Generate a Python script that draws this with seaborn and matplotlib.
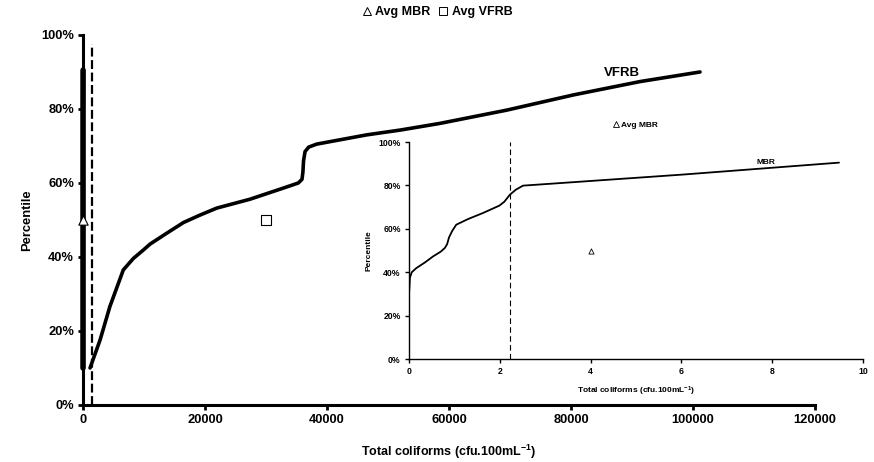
import matplotlib
matplotlib.use('Agg')
import matplotlib.pyplot as plt
import seaborn as sns
import pandas as pd
from matplotlib.ticker import PercentFormatter
from matplotlib.lines import Line2D

# cumulative percentile curves
vfrb_x = [1150, 2800, 4400, 6600, 8250, 9900, 11000, 13700, 16450, 19000, 21900, 27350, 32800,
          35300, 35900, 36050, 36150, 36400, 37000, 38300, 46500, 52000, 58500,
          69500, 80400, 91300, 101150]
vfrb_p = [0.10, 0.176, 0.266, 0.365, 0.396, 0.419, 0.435, 0.464, 0.493, 0.512, 0.532, 0.556, 0.586,
          0.600, 0.610, 0.630, 0.660, 0.685, 0.697, 0.705, 0.730, 0.743, 0.761,
          0.797, 0.838, 0.874, 0.90]

mbr_x = [0.0, 0.0, 0.02, 0.06, 0.16, 0.35, 0.53, 0.70, 0.79, 0.84, 0.88, 0.95,
         1.04, 1.30, 1.63, 1.99, 2.10, 2.22, 2.35, 2.51, 3.0, 6.03, 9.47]
mbr_p = [0.10, 0.30, 0.375, 0.40, 0.419, 0.445, 0.473, 0.495, 0.512, 0.53, 0.56, 0.59,
         0.619, 0.645, 0.673, 0.707, 0.725, 0.757, 0.78, 0.799, 0.806, 0.85, 0.905]

# averages
avg_mbr = (4.0, 0.50)
avg_vfrb = (30000, 0.50)

# guide lines (limits)
main_guide_x = 1500
main_guide_top = 0.976
inset_guide_x = 2.22

vfrb = pd.DataFrame({'x': vfrb_x, 'p': vfrb_p})
mbr = pd.DataFrame({'x': mbr_x, 'p': mbr_p})

sns.set_style('ticks')
plt.rcParams['font.family'] = ['Liberation Sans', 'DejaVu Sans']
plt.rcParams['font.weight'] = 'bold'
plt.rcParams['text.color'] = 'black'
plt.rcParams['axes.labelcolor'] = 'black'
plt.rcParams['xtick.color'] = 'black'
plt.rcParams['ytick.color'] = 'black'
plt.rcParams['axes.edgecolor'] = 'black'
plt.rcParams['mathtext.fontset'] = 'custom'
plt.rcParams['mathtext.bf'] = 'Liberation Sans:bold'
plt.rcParams['mathtext.rm'] = 'Liberation Sans:bold'
plt.rcParams['mathtext.default'] = 'bf'

fig = plt.figure(figsize=(8.74, 4.62), dpi=100)

# main axes
ax = fig.add_axes([0.095, 0.1234, 0.8375, 0.8009])
sns.lineplot(data=vfrb, x='x', y='p', sort=False, estimator=None, color='black', lw=2.6, ax=ax)
sns.lineplot(data=mbr, x='x', y='p', sort=False, estimator=None, color='black', lw=4.0, ax=ax,
             clip_on=False, zorder=4)
ax.vlines(main_guide_x, 0, main_guide_top, colors='black', lw=1.6, linestyles=(0, (4, 1.6)))
ax.scatter([avg_mbr[0]], [avg_mbr[1]], marker='^', s=45, facecolors='white', edgecolors='black',
           lw=0.8, zorder=5, clip_on=False)
ax.scatter([avg_vfrb[0]], [avg_vfrb[1]], marker='s', s=60, facecolors='white', edgecolors='black',
           lw=0.8, zorder=5)
ax.text(88400, 0.897, 'VFRB', fontsize=9.5, fontweight='bold', ha='center', va='center')
ax.set_xlim(0, 120000)
ax.set_ylim(0, 1)
ax.set_xticks(range(0, 120001, 20000))
ax.set_yticks([0, 0.2, 0.4, 0.6, 0.8, 1.0])
ax.yaxis.set_major_formatter(PercentFormatter(1.0, decimals=0))
ax.set_xlabel('Total coliforms (cfu.100mL$^{-1}$)', fontsize=9, fontweight='bold', labelpad=12)
ax.set_ylabel('Percentile', fontsize=9.3, fontweight='bold', labelpad=6)
ax.tick_params(labelsize=9.3, width=2, length=3.5, pad=3)
for s in ['left', 'bottom']:
    ax.spines[s].set_linewidth(2.2)
sns.despine(ax=ax)

# inset axes for MBR
axi = fig.add_axes([0.468, 0.2229, 0.5195, 0.4697])
axi.set_facecolor('none')
sns.lineplot(data=mbr, x='x', y='p', sort=False, estimator=None, color='black', lw=1.3, ax=axi)
axi.vlines(inset_guide_x, 0, 1, colors='black', lw=0.8, linestyles=(0, (5, 3)))
axi.scatter([avg_mbr[0]], [avg_mbr[1]], marker='^', s=14, facecolors='white', edgecolors='black',
            lw=0.6, zorder=5)
axi.text(7.87, 0.905, 'MBR', fontsize=6, fontweight='bold', ha='center', va='center')
axi.set_xlim(0, 10)
axi.set_ylim(0, 1)
axi.set_xticks(range(0, 11, 2))
axi.set_yticks([0, 0.2, 0.4, 0.6, 0.8, 1.0])
axi.yaxis.set_major_formatter(PercentFormatter(1.0, decimals=0))
axi.set_xlabel('Total coliforms (cfu.100mL$^{-1}$)', fontsize=6, fontweight='bold', labelpad=6)
axi.set_ylabel('Percentile', fontsize=6, fontweight='bold', labelpad=4)
axi.tick_params(labelsize=6.2, width=1, length=3, pad=3)
for s in ['left', 'bottom']:
    axi.spines[s].set_linewidth(1.0)
sns.despine(ax=axi)
h_in = [Line2D([], [], ls='none', marker='^', ms=4, mfc='white', mec='black', mew=0.6)]
axi.legend(h_in, ['Avg MBR'], loc='center', bbox_to_anchor=(0.5, 1.08), frameon=False,
           prop={'size': 6, 'weight': 'bold'}, handlelength=0.6, handletextpad=0.3)

# figure legend
h = [Line2D([], [], ls='none', marker='^', ms=6, mfc='white', mec='black', mew=0.7),
     Line2D([], [], ls='none', marker='s', ms=6, mfc='white', mec='black', mew=0.7)]
fig.legend(h, ['Avg MBR', 'Avg VFRB'], loc='center', bbox_to_anchor=(0.5, 0.974), ncol=2,
           frameon=False, prop={'size': 9, 'weight': 'bold'}, handlelength=0.8,
           handletextpad=0.3, columnspacing=0.6)

fig.savefig('out.png', dpi=100)
